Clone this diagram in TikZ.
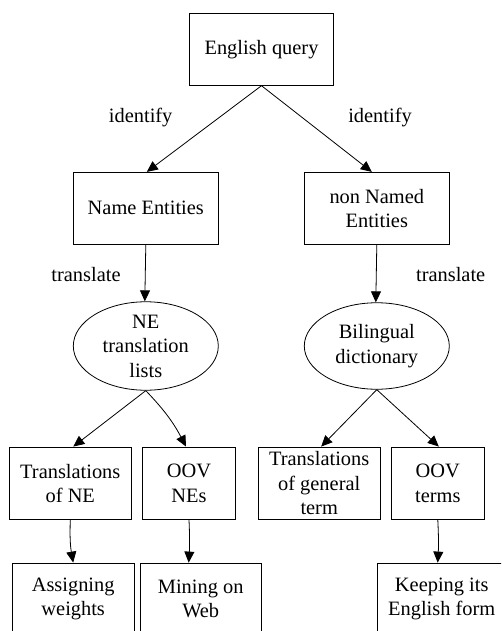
\documentclass[tikz,border=0pt]{standalone}
\usepackage{fontspec}
\setmainfont{Liberation Serif}
\usetikzlibrary{shapes.geometric,arrows.meta}
\begin{document}
\begin{tikzpicture}[x=1pt,y=-1pt,
  every node/.style={font=\fontsize{20.4}{24.5}\selectfont, align=center, inner sep=0pt},
  box/.style={draw, rectangle, line width=0.8pt, minimum height=72pt},
  oval/.style={draw, ellipse, line width=0.8pt, minimum width=145pt, minimum height=86.5pt},
  lbl/.style={},
  edge/.style={line width=0.8pt, -{Triangle[length=11pt,width=10pt]}}]
\useasboundingbox (0,0) rectangle (501,631);
\clip (0,0) rectangle (501,631);
\node[box, minimum width=144.7pt] (eq) at (261.5,49.3) {English query};
\node[box, minimum width=145pt] (ne) at (145.8,208.3) {Name Entities};
\node[box, minimum width=145pt] (nne) at (376.8,208.3) {non Named\\Entities};
\node[oval] (nel) at (145.8,346) {NE\\translation\\lists};
\node[oval] (bd) at (376.8,346) {Bilingual\\dictionary};
\node[box, minimum width=122pt, minimum height=72.7pt] (tne) at (70.3,483.3) {Translations\\of NE};
\node[box, minimum width=92.7pt, minimum height=72.7pt] (oovne) at (189,483.3) {OOV\\NEs};
\node[box, minimum width=121.7pt, minimum height=72.7pt] (tgt) at (319.2,483.3) {Translations\\of general\\term};
\node[box, minimum width=93pt, minimum height=72.7pt] (oovt) at (437.8,483.3) {OOV\\terms};
\node[box, minimum width=121.7pt] (aw) at (73.2,599) {Assigning\\weights};
\node[box, minimum width=121.3pt] (mw) at (200.7,599) {Mining on\\Web};
\node[box, minimum width=129.4pt] (kf) at (441.7,599) {Keeping its\\English form};
\node[lbl] (l1) at (140.7,118) {identify};
\node[lbl] (l2) at (380,118) {identify};
\node[lbl] (l3) at (86,275) {translate};
\node[lbl] (l4) at (450.7,275) {translate};
\draw[edge] (eq.south) -- ([xshift=1pt]ne.north);
\draw[edge] (eq.south) -- ([xshift=-5pt]nne.north);
\draw[edge] (ne.south) -- ([xshift=-1pt]nel.north);
\draw[edge] (nne.south) -- ([xshift=-1pt]bd.north);
\draw[edge] (nel.south) -- ([xshift=3pt]tne.north);
\draw[edge] (nel.south) to[bend left=8] ([xshift=-3pt]oovne.north);
\draw[edge] (bd.south) -- ([xshift=2pt]tgt.north);
\draw[edge] (bd.south) -- ([xshift=1pt]oovt.north);
\draw[edge] (tne.south) to[bend right=6] (aw.north);
\draw[edge] (oovne.south) to[bend left=3] ([xshift=-12pt]mw.north);
\draw[edge] (oovt.south) to[bend left=3] ([xshift=-4pt]kf.north);
\end{tikzpicture}
\end{document}
